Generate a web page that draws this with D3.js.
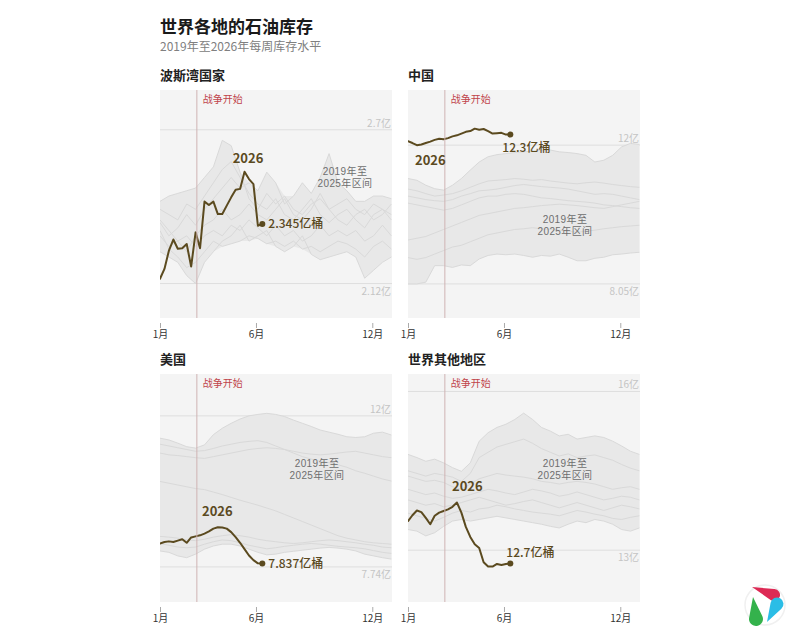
<!DOCTYPE html>
<html><head><meta charset="utf-8">
<script src="https://cdn.jsdelivr.net/npm/d3@7"></script>
<style>
body{margin:0;background:#fff;}
text{font-family:"Noto Sans CJK SC","Noto Sans",sans-serif;}
</style></head><body>
<svg id="chart" width="800" height="640"></svg>
<script>
// ---------------- DATA ----------------
const titleText = "世界各地的石油库存";
const subtitleText = "2019年至2026年每周库存水平";
const regions = ["波斯湾国家", "中国", "美国", "世界其他地区"];
const histYears = [2019, 2020, 2021, 2022, 2023, 2024, 2025];
const histDays = [0,14,28,42,56,70,84,98,112,126,140,154,168,182,196,210,224,238,252,266,280,294,308,322,336,350,364];
const days2026 = [0,7,14,21,28,35,42,49,56,63,70,77,84,91,98,105,112,119,126,133,140,147,154,161];
const monthTicks = [0, 151, 334];
const monthLabels = ["1月", "6月", "12月"];
const warDay = 58;
const warLabel = "战争开始";
const rangeLabel = ["2019年至", "2025年区间"];
const currentYearLabel = "2026";

// Persian Gulf (亿桶)
const gulfHist = [
 [2.40,2.38,2.36,2.42,2.40,2.45,2.50,2.55,2.58,2.52,2.46,2.42,2.40,2.44,2.38,2.36,2.40,2.44,2.38,2.35,2.38,2.40,2.36,2.33,2.38,2.40,2.36],
 [2.43,2.45,2.46,2.47,2.48,2.52,2.56,2.66,2.64,2.54,2.44,2.40,2.46,2.42,2.45,2.40,2.38,2.42,2.44,2.40,2.36,2.34,2.38,2.40,2.36,2.38,2.42],
 [2.35,2.30,2.33,2.38,2.34,2.40,2.44,2.48,2.52,2.48,2.50,2.47,2.54,2.50,2.42,2.45,2.50,2.46,2.52,2.61,2.50,2.47,2.43,2.43,2.45,2.45,2.44],
 [2.30,2.26,2.28,2.24,2.30,2.34,2.36,2.40,2.36,2.38,2.42,2.38,2.36,2.40,2.44,2.38,2.36,2.40,2.46,2.40,2.42,2.44,2.40,2.38,2.42,2.40,2.38],
 [2.36,2.32,2.28,2.30,2.26,2.30,2.32,2.30,2.34,2.32,2.36,2.33,2.30,2.34,2.30,2.32,2.28,2.30,2.34,2.30,2.32,2.30,2.32,2.28,2.30,2.34,2.30],
 [2.32,2.25,2.22,2.18,2.20,2.24,2.28,2.26,2.27,2.28,2.30,2.29,2.27,2.28,2.26,2.28,2.25,2.26,2.24,2.26,2.28,2.27,2.25,2.22,2.26,2.28,2.25],
 [2.24,2.22,2.20,2.15,2.12,2.20,2.24,2.28,2.30,2.34,2.28,2.30,2.32,2.26,2.24,2.26,2.30,2.23,2.21,2.22,2.23,2.24,2.22,2.14,2.17,2.20,2.22]
];
const gulf2026 = [2.138,2.175,2.244,2.286,2.251,2.253,2.269,2.184,2.313,2.253,2.429,2.416,2.429,2.382,2.382,2.414,2.445,2.474,2.477,2.542,2.514,2.495,2.338,2.345];

// China
const chinaHist = [
 [11.05,11.00,10.86,10.76,10.72,10.86,11.05,11.29,11.52,11.67,11.73,11.76,11.79,11.81,11.83,11.86,11.86,11.81,11.79,11.76,11.71,11.52,11.57,11.71,11.95,12.05,12.02],
 [10.75,10.70,10.62,10.55,10.58,10.62,10.70,10.80,10.90,10.98,11.00,11.02,11.05,11.03,11.00,11.02,10.98,10.95,10.92,10.90,10.93,10.95,10.92,10.88,10.85,10.82,10.80],
 [10.55,10.50,10.45,10.42,10.40,10.45,10.55,10.62,10.70,10.72,10.75,10.80,10.85,10.88,10.85,10.82,10.80,10.78,10.75,10.70,10.65,10.60,10.62,10.60,10.55,10.50,10.45],
 [10.35,10.30,10.25,10.20,10.15,10.20,10.30,10.40,10.50,10.55,10.55,10.60,10.62,10.60,10.55,10.50,10.48,10.45,10.42,10.40,10.38,10.35,10.30,10.28,10.25,10.22,10.20],
 [9.30,9.35,9.40,9.50,9.60,9.70,9.80,9.90,10.00,10.05,10.10,10.15,10.20,10.22,10.25,10.28,10.30,10.32,10.30,10.28,10.25,10.22,10.20,10.25,10.30,10.35,10.40],
 [8.80,8.75,8.80,8.90,9.00,9.10,9.15,9.25,9.35,9.45,9.50,9.55,9.60,9.62,9.65,9.62,9.60,9.58,9.55,9.52,9.55,9.58,9.62,9.65,9.68,9.70,9.72],
 [8.05,8.05,8.10,8.57,8.57,8.52,8.59,8.57,8.76,8.86,8.90,8.88,8.90,8.86,8.81,8.86,8.84,8.90,8.81,8.71,8.71,8.78,8.81,8.88,8.90,8.93,8.95]
];
const china2026 = [12.11,12.06,12.00,12.02,12.06,12.10,12.15,12.18,12.17,12.20,12.25,12.28,12.33,12.38,12.40,12.47,12.44,12.46,12.40,12.33,12.34,12.35,12.30,12.30];

// United States
const usHist = [
 [11.37,11.32,11.23,11.13,11.09,11.18,11.47,11.65,11.79,11.91,12.00,12.04,12.07,12.04,11.98,11.88,11.79,11.70,11.60,11.54,11.48,11.41,11.39,11.41,11.51,11.54,11.46],
 [11.20,11.15,11.10,11.05,11.00,11.02,11.08,11.15,11.20,11.25,11.28,11.30,11.25,11.15,11.05,10.95,10.85,10.78,10.72,10.68,10.62,10.55,10.45,10.38,10.30,10.22,10.16],
 [10.95,10.90,10.88,10.85,10.82,10.80,10.85,10.90,10.95,11.00,11.05,11.08,11.10,11.08,11.05,11.00,10.95,10.92,10.90,10.92,10.95,10.98,11.00,10.95,10.90,10.85,10.82],
 [10.15,10.10,10.05,10.00,9.95,9.92,9.85,9.78,9.70,9.62,9.55,9.48,9.40,9.32,9.22,9.12,9.02,8.92,8.82,8.72,8.62,8.55,8.50,8.45,8.42,8.40,8.38],
 [8.60,8.58,8.55,8.50,8.48,8.52,8.58,8.62,8.65,8.62,8.58,8.52,8.48,8.45,8.42,8.40,8.42,8.45,8.48,8.50,8.48,8.45,8.42,8.38,8.35,8.30,8.28],
 [8.40,8.35,8.30,8.28,8.30,8.38,8.45,8.50,8.48,8.42,8.35,8.30,8.25,8.28,8.32,8.35,8.38,8.40,8.38,8.35,8.32,8.30,8.28,8.25,8.20,8.15,8.12],
 [8.19,8.15,8.05,8.00,8.10,8.24,8.33,8.38,8.38,8.33,8.24,8.15,8.08,8.10,8.15,8.18,8.21,8.24,8.27,8.29,8.27,8.24,8.19,8.10,8.05,8.00,7.96]
];
const us2026 = [8.40,8.44,8.46,8.44,8.48,8.52,8.42,8.57,8.60,8.63,8.68,8.74,8.82,8.86,8.85,8.82,8.72,8.58,8.42,8.24,8.06,7.93,7.84,7.837];

// Rest of world
const rowHist = [
 [14.81,14.75,14.68,14.72,14.65,14.56,14.49,14.65,15.06,15.22,15.32,15.38,15.47,15.59,15.47,15.32,15.25,15.16,15.19,15.10,15.13,15.16,15.13,15.06,14.97,14.87,14.81],
 [14.40,14.35,14.30,14.32,14.28,14.20,14.15,14.25,14.35,14.40,14.45,14.42,14.40,14.38,14.35,14.30,14.28,14.25,14.28,14.30,14.28,14.25,14.20,14.15,14.18,14.20,14.15],
 [14.15,14.10,14.05,14.08,14.02,13.98,14.00,14.05,14.10,14.15,14.12,14.08,14.05,14.10,14.15,14.12,14.08,14.02,14.05,14.10,14.05,14.00,13.95,13.98,14.02,14.00,13.95],
 [13.95,13.90,13.85,13.88,13.82,13.85,13.90,13.95,14.00,13.95,13.90,13.85,13.88,13.92,13.95,13.90,13.85,13.80,13.85,13.90,13.85,13.80,13.75,13.80,13.85,13.82,13.78],
 [13.70,13.65,13.60,13.55,13.62,13.70,13.75,13.72,13.78,13.80,13.85,13.82,13.78,13.75,13.72,13.70,13.68,13.65,13.70,13.75,13.72,13.68,13.65,13.60,13.58,13.62,13.65],
 [14.50,14.45,14.40,14.45,14.42,14.38,14.30,14.45,14.75,14.85,14.95,15.00,15.05,15.10,15.02,14.92,14.85,14.78,14.82,14.75,14.78,14.80,14.75,14.70,14.62,14.55,14.50],
 [13.39,13.36,13.27,13.33,13.45,13.55,13.58,13.55,13.58,13.61,13.64,13.61,13.58,13.55,13.52,13.49,13.45,13.42,13.49,13.55,13.52,13.58,13.55,13.49,13.39,13.36,13.42]
];
const row2026 = [13.55,13.66,13.75,13.72,13.61,13.49,13.65,13.71,13.74,13.77,13.82,13.90,13.71,13.44,13.25,13.11,13.04,12.77,12.69,12.69,12.74,12.72,12.74,12.75];

const gridValues = [[2.12, 2.7], [8.05, 12], [7.74, 12], [13, 16]];
const gridLabels = [["2.12亿", "2.7亿"], ["8.05亿", "12亿"], ["7.74亿", "12亿"], ["13亿", "16亿"]];
const endLabels = ["2.345亿桶", "12.3亿桶", "7.837亿桶", "12.7亿桶"];

// ---------------- LAYOUT ----------------
const W = 232, H = 228;
const C = {cur:"#5b4a1f", bg:"#f4f4f4", band:"#e8e8e8", hline:"#d9d9d9", grid:"#dedede", war:"#cfb3b3", warText:"#c0444a"};
const layout = [
 {x:160, y:90,  domain:[1.99, 2.85],  yl:{x:88, y:73, a:"middle"}, rl:{x:185, y:85}, el:{dx:6, dy:4}},
 {x:408, y:90,  domain:[7.08, 13.57], yl:{x:7, y:75, a:"start"},   rl:{x:157, y:133}, el:{dx:-8, dy:17}},
 {x:160, y:374, domain:[6.75, 13.18], yl:{x:42, y:142, a:"start"}, rl:{x:157, y:93}, el:{dx:6, dy:5}},
 {x:408, y:374, domain:[12.02, 16.33],yl:{x:44, y:117, a:"start"}, rl:{x:157, y:93}, el:{dx:-4, dy:-6}}
];
const hists = [gulfHist, chinaHist, usHist, rowHist];
const currents = [gulf2026, china2026, us2026, row2026];

const svg = d3.select("#chart");
svg.append("text").attr("x",160).attr("y",33).attr("font-size",17).attr("font-weight",700).attr("fill","#1a1a1a").text(titleText);
svg.append("text").attr("x",160).attr("y",51).attr("font-size",12).attr("fill","#808080").text(subtitleText);

const x = d3.scaleLinear().domain([0,365]).range([0,W]);

layout.forEach((L, i) => {
  const hist = hists[i], cur = currents[i];
  const y = d3.scaleLinear().domain(L.domain).range([H,0]);
  const g = svg.append("g").attr("transform",`translate(${L.x},${L.y})`);

  svg.append("text").attr("x",L.x).attr("y",L.y-10).attr("font-size",13).attr("font-weight",700).attr("fill","#222").text(regions[i]);

  const clipId = "clip"+i;
  g.append("clipPath").attr("id",clipId).append("rect").attr("width",W).attr("height",H);
  g.append("rect").attr("width",W).attr("height",H).attr("fill",C.bg);

  const body = g.append("g").attr("clip-path",`url(#${clipId})`);

  gridValues[i].forEach(v => {
    body.append("line").attr("x1",0).attr("x2",W).attr("y1",y(v)).attr("y2",y(v)).attr("stroke",C.grid).attr("stroke-width",1);
  });

  const band = histDays.map((d,j) => ({d, lo:d3.min(hist, s=>s[j]), hi:d3.max(hist, s=>s[j])}));
  body.append("path").datum(band)
    .attr("d", d3.area().x(d=>x(d.d)).y0(d=>y(d.lo)).y1(d=>y(d.hi)))
    .attr("fill", C.band);

  const hl = d3.line().x((v,j)=>x(histDays[j])).y(v=>y(v));
  hist.forEach(s => {
    body.append("path").datum(s).attr("d", hl).attr("fill","none").attr("stroke",C.hline).attr("stroke-width",1);
  });

  // gridline labels
  gridValues[i].forEach((v,k) => {
    g.append("text").attr("x",W-1).attr("y", k===0 ? y(v)+11 : y(v)-3)
      .attr("text-anchor","end").attr("font-size",10).attr("fill","#c4c4c4").text(gridLabels[i][k]);
  });

  // war line
  g.append("line").attr("x1",x(warDay)).attr("x2",x(warDay)).attr("y1",0).attr("y2",H)
    .attr("stroke",C.war).attr("stroke-width",1);
  g.append("text").attr("x",x(warDay)+6).attr("y",13).attr("font-size",10).attr("fill",C.warText).text(warLabel);

  // range label, two lines
  rangeLabel.forEach((t,k) => {
    g.append("text").attr("x",L.rl.x).attr("y",L.rl.y + k*11.5).attr("text-anchor","middle")
      .attr("font-size",10).attr("letter-spacing",0.4).attr("fill","#6e6e6e")
      .style("font-family",'"Liberation Sans","Noto Sans CJK SC",sans-serif').text(t);
  });

  // 2026 line
  const cl = d3.line().x((v,j)=>x(days2026[j])).y(v=>y(v));
  body.append("path").datum(cur).attr("d", cl).attr("fill","none").attr("stroke",C.cur)
    .attr("stroke-width",2).attr("stroke-linejoin","round").attr("stroke-linecap","round");
  const lx = x(days2026[days2026.length-1]), ly = y(cur[cur.length-1]);
  g.append("circle").attr("cx",lx).attr("cy",ly).attr("r",3).attr("fill",C.cur);
  g.append("text").attr("x",lx+L.el.dx).attr("y",ly+L.el.dy).attr("font-size",12).attr("font-weight",500)
    .attr("fill",C.cur).text(endLabels[i]);
  g.append("text").attr("x",L.yl.x).attr("y",L.yl.y).attr("text-anchor",L.yl.a).attr("font-size",13)
    .attr("font-weight",700).attr("fill",C.cur).text(currentYearLabel);

  // x axis
  const ax = g.append("g").attr("transform",`translate(0,${H+5})`)
    .call(d3.axisBottom(x).tickValues(monthTicks).tickFormat((d,k)=>monthLabels[k]).tickSize(5).tickPadding(3));
  ax.select(".domain").remove();
  ax.selectAll(".tick line").attr("stroke","#aaa");
  ax.selectAll(".tick text").attr("font-size",10).attr("fill","#333")
    .attr("font-family",'"Noto Sans CJK SC","Noto Sans",sans-serif');
});

// logo
function teardrop(tx,ty,cx,cy,r){
  const dx=tx-cx, dy=ty-cy, d=Math.hypot(dx,dy);
  const base=Math.atan2(dy,dx), off=Math.acos(r/d);
  const p1=[cx+r*Math.cos(base+off), cy+r*Math.sin(base+off)];
  const p2=[cx+r*Math.cos(base-off), cy+r*Math.sin(base-off)];
  return `M${tx},${ty}L${p1[0]},${p1[1]}A${r},${r} 0 1 1 ${p2[0]},${p2[1]}Z`;
}
const logo = svg.append("g");
logo.append("circle").attr("cx",765).attr("cy",605).attr("r",20).attr("fill","none").attr("stroke","#f0f0f0").attr("stroke-width",1.5);
logo.append("path").attr("d",teardrop(752,587,774,595,6)).attr("fill","#dd2a55");
logo.append("path").attr("d",teardrop(753,597,756,619,7)).attr("fill","#34b24c");
logo.append("path").attr("d",teardrop(767,622,777,604,6.5)).attr("fill","#2bbde6");
</script>
</body></html>
